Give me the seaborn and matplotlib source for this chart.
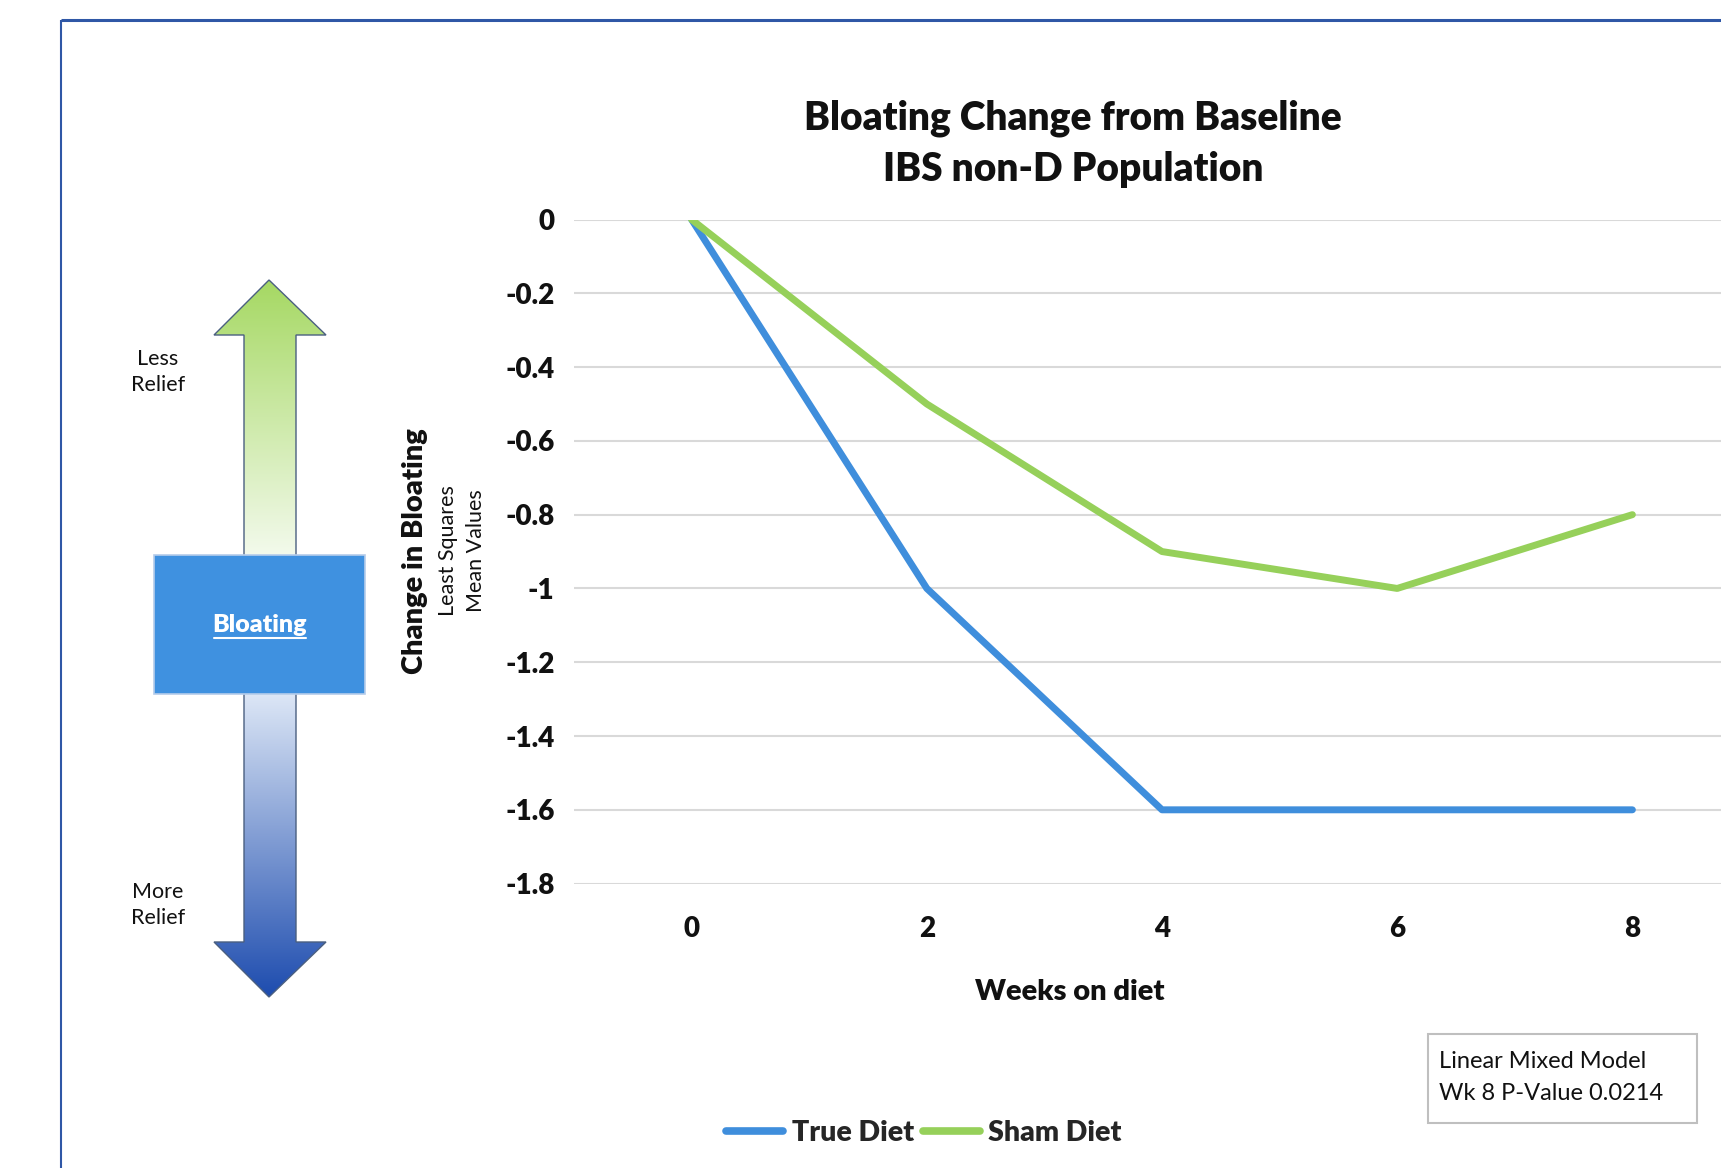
import numpy as np
import pandas as pd
import matplotlib
matplotlib.use("Agg")
import matplotlib.pyplot as plt
import seaborn as sns
from matplotlib.patches import Polygon, Rectangle
from matplotlib.lines import Line2D

# ---- data ----
weeks = [0, 2, 4, 6, 8]
true_diet = [0.0, -1.0, -1.6, -1.6, -1.6]
sham_diet = [0.0, -0.5, -0.9, -1.0, -0.8]
series_names = ["True Diet", "Sham Diet"]
y_ticks = [0, -0.2, -0.4, -0.6, -0.8, -1.0, -1.2, -1.4, -1.6, -1.8]
y_tick_labels = ["0", "-0.2", "-0.4", "-0.6", "-0.8", "-1", "-1.2", "-1.4", "-1.6", "-1.8"]

BLUE = "#3F8EDC"
GREEN = "#96D05A"
FONT = "Lato"
BW = "heavy"

sns.set_theme(style="white")
plt.rcParams["font.family"] = [FONT, "DejaVu Sans"]

W, H = 1721, 1168
fig = plt.figure(figsize=(W / 100, H / 100), dpi=100)
fig.patch.set_facecolor("white")

# overlay axes in pixel coordinates
ov = fig.add_axes([0, 0, 1, 1], zorder=0)
ov.set_xlim(0, W)
ov.set_ylim(H, 0)
ov.axis("off")

# frame
ov.plot([61, W + 5], [20, 20], color="#2F57A6", lw=2.2, solid_capstyle="butt")
ov.plot([61, 61], [20, H + 5], color="#2F57A6", lw=1.5, solid_capstyle="butt")

# up arrow (green gradient)
up = [(244, 556), (244, 335), (214, 335), (269, 280), (326, 335), (296, 335), (296, 556)]
ov.add_patch(Polygon(up, closed=True, facecolor="none", edgecolor="#4A5F80", lw=1.0, zorder=3))
g = np.linspace(0, 1, 256)[:, None]
c_top = np.array(matplotlib.colors.to_rgb("#A5D862"))
c_bot = np.array(matplotlib.colors.to_rgb("#F3FAEC"))
img = c_top[None, None, :] * (1 - g[..., None]) + c_bot[None, None, :] * g[..., None]
img = np.repeat(img, 2, axis=1)
im = ov.imshow(img, extent=(210, 330, 556, 278), aspect="auto", zorder=2, interpolation="bilinear")
im.set_clip_path(Polygon(up, closed=True, transform=ov.transData))

# down arrow (blue gradient)
dn = [(244, 693), (296, 693), (296, 942), (326, 942), (269, 997), (214, 942), (244, 942)]
ov.add_patch(Polygon(dn, closed=True, facecolor="none", edgecolor="#4A5F80", lw=1.0, zorder=3))
c_top2 = np.array(matplotlib.colors.to_rgb("#DDE7F6"))
c_bot2 = np.array(matplotlib.colors.to_rgb("#1C4BAE"))
img2 = c_top2[None, None, :] * (1 - g[..., None]) + c_bot2[None, None, :] * g[..., None]
img2 = np.repeat(img2, 2, axis=1)
im2 = ov.imshow(img2, extent=(210, 330, 999, 693), aspect="auto", zorder=2, interpolation="bilinear")
im2.set_clip_path(Polygon(dn, closed=True, transform=ov.transData))

# central box
ov.add_patch(Rectangle((154, 555), 211, 139, facecolor="#3F91E0", edgecolor="#B5CCEA", lw=1.2, zorder=4))
ov.text(260, 625, "Bloating", color="white", fontsize=18, fontweight=BW, ha="center", va="center", zorder=5)
ov.plot([214, 306], [638, 638], color="white", lw=1.5, zorder=5)

ov.text(158, 372, "Less\nRelief", fontsize=15.5, ha="center", va="center", color="#111111", linespacing=1.35)
ov.text(158, 905, "More\nRelief", fontsize=15.5, ha="center", va="center", color="#111111", linespacing=1.35)

# main chart
ax = fig.add_axes([574 / W, 1 - 883.6 / H, (1750 - 574) / W, (883.6 - 219.5) / H], zorder=1)
ax.set_facecolor("none")
df = pd.DataFrame({
    "week": weeks * 2,
    "value": true_diet + sham_diet,
    "series": [series_names[0]] * len(weeks) + [series_names[1]] * len(weeks),
})
sns.lineplot(data=df, x="week", y="value", hue="series", palette=[BLUE, GREEN],
             lw=5, ax=ax, legend=False, zorder=3, solid_capstyle="round")
ax.set_xlim(-1, 9)
ax.set_ylim(-1.8, 0)
ax.set_yticks(y_ticks)
ax.set_yticklabels(y_tick_labels, fontweight=BW, fontsize=20)
ax.set_xticks(weeks)
ax.set_xticklabels([str(w) for w in weeks], fontweight=BW, fontsize=20)
ax.grid(axis="y", color="#D9D9D9", lw=1.5, zorder=0)
ax.grid(axis="x", visible=False)
for s in ax.spines.values():
    s.set_visible(False)
ax.tick_params(axis="both", length=0, colors="#111111")
ax.tick_params(axis="y", pad=14)
ax.tick_params(axis="x", pad=23)
ax.set_xlabel("")
ax.set_ylabel("")

# titles / labels
fig.text(1073 / W, 1 - 118 / H, "Bloating Change from Baseline", ha="center", va="center",
         fontsize=28, fontweight=BW, color="#111111")
fig.text(1073 / W, 1 - 170 / H, "IBS non-D Population", ha="center", va="center",
         fontsize=28, fontweight=BW, color="#111111")
fig.text(1070 / W, 1 - 992 / H, "Weeks on diet", ha="center", va="center",
         fontsize=21, fontweight=BW, color="#111111")
fig.text(415 / W, 1 - 551 / H, "Change in Bloating", rotation=90, ha="center", va="center",
         fontsize=21, fontweight=BW, color="#111111")
fig.text(448 / W, 1 - 551 / H, "Least Squares", rotation=90, ha="center", va="center",
         fontsize=15.5, color="#111111")
fig.text(476 / W, 1 - 551 / H, "Mean Values", rotation=90, ha="center", va="center",
         fontsize=15.5, color="#111111")

# p-value box
ov.add_patch(Rectangle((1428, 1034), 269, 89, facecolor="white", edgecolor="#BFBFBF", lw=1.5, zorder=4))
ov.text(1439, 1061, "Linear Mixed Model", fontsize=17, ha="left", va="center", color="#111111", zorder=5)
ov.text(1439, 1093, "Wk 8 P-Value 0.0214", fontsize=17, ha="left", va="center", color="#111111", zorder=5)

# legend
handles = [Line2D([], [], color=BLUE, lw=5.5, solid_capstyle="round"),
           Line2D([], [], color=GREEN, lw=5.5, solid_capstyle="round")]
leg = fig.legend(handles, series_names, loc="center", bbox_to_anchor=(924 / W, 1 - 1133 / H),
                 ncol=2, frameon=False, handlelength=2.0, handletextpad=0.3, columnspacing=0.3,
                 prop={"family": [FONT, "DejaVu Sans"], "weight": BW, "size": 20.5})

fig.savefig("out.png", dpi=100, facecolor="white")
